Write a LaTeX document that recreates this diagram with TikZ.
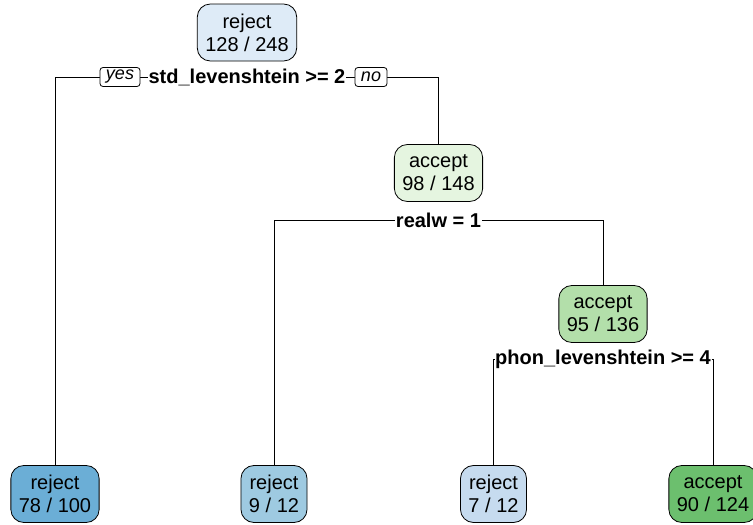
\documentclass[tikz,border=0pt]{standalone}
\usepackage{fontspec}
\setmainfont{Liberation Sans}
\usepackage{tikz}
\usetikzlibrary{positioning}
\definecolor{rejA}{HTML}{DEEBF7}
\definecolor{accA}{HTML}{E5F5E0}
\definecolor{accB}{HTML}{B3DFAA}
\definecolor{rejL}{HTML}{6BAED6}
\definecolor{rejM}{HTML}{9ECAE1}
\definecolor{rejS}{HTML}{C6DBEF}
\definecolor{accL}{HTML}{6CBF6E}
\tikzset{N/.style={draw, rounded corners=13pt, align=center, inner xsep=8pt, minimum height=57pt, font=\fontsize{20}{23}\selectfont}}
\tikzset{S/.style={fill=white, inner sep=0.5pt, font=\bfseries\fontsize{20}{23}\selectfont}}
\tikzset{Y/.style={draw, fill=white, rounded corners=3pt, inner xsep=6pt, inner ysep=1pt, minimum height=19pt, font=\itshape\fontsize{18}{21}\selectfont}}
\tikzset{E/.style={draw, line width=0.8pt}}
\begin{document}
\begin{tikzpicture}[on grid, line width=0.8pt]
        \useasboundingbox (0,0) rectangle (753pt,-525pt);
        %% Root and first split
        \node[N,fill=rejA] (root) at (247pt,-32.5pt) {reject\\128 / 248};
        \node[S,below=44.5pt of root] (split1) {std\_levenshtein >= 2};
        %% Inner nodes
        \node[N,fill=accA,below right=140.5pt and 191.5pt of root] (node2) {accept\\98 / 148};
        \node[S,below=47pt of node2] (split2) {realw = 1};
        \node[N,fill=accB,below right=141pt and 164.5pt of node2] (node3) {accept\\95 / 136};
        \node[S,below=45pt of node3] (split3) {phon\_levenshtein >= 4};
        %% Leaves
        \node[N,fill=rejL,below left=461.5pt and 192pt of root] (leaf1) {reject\\78 / 100};
        \node[N,fill=rejM,below left=321pt and 164.5pt of node2] (leaf2) {reject\\9 / 12};
        \node[N,fill=rejS,below left=180pt and 109.5pt of node3] (leaf3) {reject\\7 / 12};
        \node[N,fill=accL,below right=180pt and 110pt of node3] (leaf4) {accept\\90 / 124};
        %% Edges
        \draw[E] (split1) -| (leaf1.north);
        \draw[E] (split1) -| (node2.north);
        \draw[E] (split2) -| (leaf2.north);
        \draw[E] (split2) -| (node3.north);
        \draw[E] (split3) -| (leaf3.north);
        \draw[E] (split3) -| (leaf4.north);
        %% Branch labels
        \node[Y,left=127pt of split1] (yes) {yes};
        \node[Y,right=124pt of split1] (no) {no};
\end{tikzpicture}
\end{document}
